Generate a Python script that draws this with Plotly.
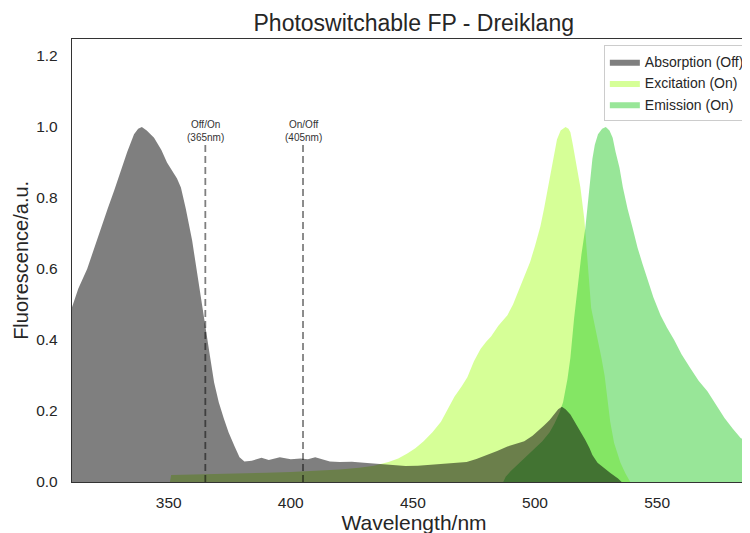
import plotly.graph_objects as go

# ---------------- data ----------------
absorption_nm = [310.3, 313, 316.6, 319, 322, 325, 327.6, 330, 333, 335.8, 337.5, 339, 341, 344, 347,
                 349.3, 351.5, 353.4, 355, 357, 359.6, 361, 362.8, 365, 367, 368.6, 370.5, 372.5, 374.5,
                 377, 379, 381, 384, 388, 391, 395.5, 400, 404, 407, 410, 413, 416, 420, 425, 430, 434,
                 438, 442, 447, 452, 457, 462, 467, 472, 476, 480, 484.5, 488.7, 492, 495.6, 499, 501.5,
                 503.8, 506, 507.9, 509.5, 511, 512.5, 514.5, 516.5, 518.6, 520.5, 522.3, 523.5, 525.6,
                 528, 531, 534, 535.5]
absorption_val = [0.49, 0.545, 0.60, 0.65, 0.71, 0.77, 0.82, 0.87, 0.93, 0.98, 0.995, 1.0, 0.99, 0.97, 0.935,
                  0.90, 0.875, 0.855, 0.83, 0.77, 0.68, 0.62, 0.54, 0.44, 0.35, 0.28, 0.225, 0.18, 0.14,
                  0.10, 0.07, 0.058, 0.06, 0.068, 0.062, 0.07, 0.064, 0.066, 0.064, 0.07, 0.065, 0.058, 0.056,
                  0.057, 0.054, 0.052, 0.05, 0.046, 0.045, 0.046, 0.048, 0.05, 0.052, 0.056, 0.065, 0.075,
                  0.087, 0.10, 0.108, 0.115, 0.13, 0.145, 0.16, 0.175, 0.19, 0.205, 0.212, 0.205, 0.19,
                  0.168, 0.144, 0.12, 0.096, 0.076, 0.054, 0.04, 0.025, 0.01, 0.0]

excitation_nm = [350.5, 351, 360, 370, 380, 390, 400, 410, 420, 428, 434, 440, 444, 447.7, 451, 454.4, 458,
                 461.5, 464, 467, 470, 472.3, 475, 477.7, 480, 482, 485, 488.7, 491, 492.8, 495.5, 498, 500,
                 502.2, 503.7, 505, 506.5, 507.8, 509, 510.5, 512.5, 513.7, 514.5, 515.5, 516.5, 518.6,
                 520.2, 521.5, 523, 524.5, 525.8, 527.2, 528.5, 529.5, 530.8, 532.4, 535, 537, 539]
excitation_val = [0.0, 0.02, 0.021, 0.022, 0.024, 0.026, 0.028, 0.031, 0.035, 0.04, 0.046, 0.056, 0.066, 0.08,
                  0.095, 0.115, 0.14, 0.17, 0.20, 0.24, 0.27, 0.295, 0.34, 0.375, 0.395, 0.41, 0.44, 0.47,
                  0.50, 0.53, 0.575, 0.62, 0.665, 0.72, 0.77, 0.82, 0.875, 0.93, 0.965, 0.99, 1.0, 0.995,
                  0.985, 0.95, 0.91, 0.83, 0.74, 0.63, 0.49, 0.44, 0.40, 0.35, 0.30, 0.24, 0.17, 0.11,
                  0.054, 0.025, 0.0]

emission_nm = [487, 488, 490, 493, 497, 500, 503, 506, 508, 510, 511.5, 513.3, 514.5, 516, 517.5, 519, 520.6,
               522.3, 523.5, 524.5, 525.8, 527.5, 529, 530.5, 531.8, 533, 534.6, 536, 537.9, 540, 542, 544,
               546, 548.5, 551.4, 554, 557, 560, 563.7, 567, 570.6, 574, 577.6, 581, 584.2, 587, 590.5]
emission_val = [0.0, 0.015, 0.03, 0.05, 0.075, 0.095, 0.115, 0.14, 0.165, 0.195, 0.225, 0.29, 0.35, 0.46,
                0.56, 0.64, 0.715, 0.82, 0.91, 0.95, 0.98, 0.995, 1.0, 0.99, 0.97, 0.93, 0.885, 0.83, 0.77,
                0.715, 0.66, 0.615, 0.57, 0.52, 0.47, 0.435, 0.40, 0.36, 0.32, 0.285, 0.256, 0.22, 0.18,
                0.15, 0.124, 0.112, 0.10]

switch_nm = [365, 405]
switch_labels = ["Off/On<br>(365nm)", "On/Off<br>(405nm)"]
switch_top = 0.95

x_ticks = [350, 400, 450, 500, 550]
y_ticks = [0.0, 0.2, 0.4, 0.6, 0.8, 1.0, 1.2]

FONT = "Liberation Sans, Arial, sans-serif"
TXT = "#262626"

fig = go.Figure()

fig.add_trace(go.Scatter(x=excitation_nm, y=excitation_val, name="Excitation (On)", mode="lines",
                         fill="tozeroy", fillcolor="rgba(173,255,47,0.5)",
                         line=dict(width=0, color="rgba(173,255,47,0.5)"), legendrank=2))
fig.add_trace(go.Scatter(x=emission_nm, y=emission_val, name="Emission (On)", mode="lines",
                         fill="tozeroy", fillcolor="rgba(50,205,50,0.5)",
                         line=dict(width=0, color="rgba(50,205,50,0.5)"), legendrank=3))
fig.add_trace(go.Scatter(x=absorption_nm, y=absorption_val, name="Absorption (Off)", mode="lines",
                         fill="tozeroy", fillcolor="rgba(0,0,0,0.5)",
                         line=dict(width=0, color="rgba(0,0,0,0.5)"), legendrank=1))

for wl, lab in zip(switch_nm, switch_labels):
    fig.add_trace(go.Scatter(x=[wl, wl], y=[0, switch_top], mode="lines", showlegend=False,
                             hoverinfo="skip",
                             line=dict(color="rgba(0,0,0,0.5)", width=1.8, dash="7px,4px")))
    fig.add_annotation(x=wl, y=switch_top, text=lab, showarrow=False, xanchor="center",
                       yanchor="bottom", yshift=0, font=dict(family=FONT, size=10, color="#333333"))

# y-axis title placed as a rotated annotation in the left margin
fig.add_annotation(text="Fluorescence/a.u.", xref="paper", yref="paper", x=-0.0755, y=0.5,
                   xanchor="center", yanchor="middle", textangle=-90, showarrow=False,
                   font=dict(family=FONT, size=20, color=TXT))

axis_common = dict(showgrid=False, zeroline=False, showline=True, mirror=True,
                   linecolor="#333333", linewidth=1.3, ticks="outside", automargin=False,
                   tickcolor="rgba(0,0,0,0)", tickfont=dict(family=FONT, size=15.5, color=TXT))

fig.update_xaxes(range=[310.4, 590.5], tickvals=x_ticks, ticklen=6,
                 title=dict(text="Wavelength/nm", font=dict(family=FONT, size=21, color=TXT), standoff=3),
                 **axis_common)
fig.update_yaxes(range=[0, 1.248], tickvals=y_ticks, tickformat=".1f", ticklen=10,
                 **axis_common)

fig.update_layout(
    width=750, height=533,
    margin=dict(l=64, r=2, t=31, b=59),
    paper_bgcolor="white", plot_bgcolor="white",
    title=dict(text="Photoswitchable FP - Dreiklang", x=0.541, xanchor="center",
               y=1 - 15 / 533, yanchor="middle", yref="container",
               font=dict(family=FONT, size=23, color=TXT)),
    legend=dict(x=0.991, y=0.986, xanchor="right", yanchor="top",
                bgcolor="white", bordercolor="#cccccc", borderwidth=1,
                font=dict(family=FONT, size=14, color=TXT), tracegroupgap=0, itemwidth=30),
    showlegend=True,
)

fig.write_html("out.html")
